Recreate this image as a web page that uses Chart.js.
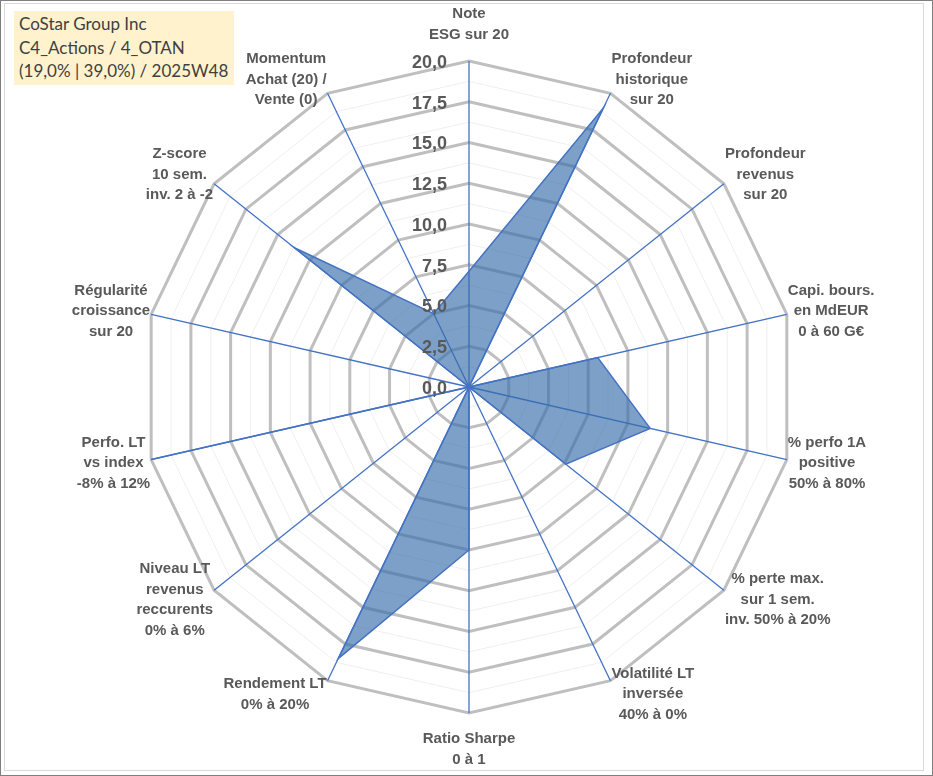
<!DOCTYPE html>
<html>
<head>
<meta charset="utf-8">
<script src="https://cdn.jsdelivr.net/npm/chart.js@4.4.1/dist/chart.umd.min.js"></script>
<style>
    html, body { margin: 0; padding: 0; background: #fff; }
    #page { position: relative; width: 933px; height: 776px; box-sizing: border-box; border: 1px solid #7f7f7f; overflow: hidden; }
    #frame { position: absolute; left: 3px; top: 2px; width: 920px; height: 768px; box-sizing: border-box; border: 1px solid #d9d9d9; }
    #radar { position: absolute; left: 0; top: 0; }
    #titre { position: absolute; left: 13px; top: 10px; width: 220px; height: 74px; background: #fff2cc;
             font-family: Lato, "Open Sans", sans-serif; font-size: 17px; line-height: 23.5px; color: #404040;
             padding: 1px 0 0 5px; box-sizing: border-box; white-space: nowrap; }
</style>
</head>
<body>
<div id="page">
    <div id="frame"></div>
    <canvas id="radar" width="933" height="776"></canvas>
    <div id="titre">CoStar Group Inc<br>C4_Actions / 4_OTAN<br>(19,0% | 39,0%) / 2025W48</div>
</div>
<script>

// Data {

    const axes = [
        ['Note', 'ESG sur 20'],
        ['Profondeur', 'historique', 'sur 20'],
        ['Profondeur', 'revenus', 'sur 20'],
        ['Capi. bours.', 'en MdEUR', '0 à 60 G€'],
        ['% perfo 1A', 'positive', '50% à 80%'],
        ['% perte max.', 'sur 1 sem.', 'inv. 50% à 20%'],
        ['Volatilité LT', 'inversée', '40% à 0%'],
        ['Ratio Sharpe', '0 à 1'],
        ['Rendement LT', '0% à 20%'],
        ['Niveau LT', 'revenus', 'reccurents', '0% à 6%'],
        ['Perfo. LT', 'vs index', '-8% à 12%'],
        ['Régularité', 'croissance', 'sur 20'],
        ['Z-score', '10 sem.', 'inv. 2 à -2'],
        ['Momentum', 'Achat (20) /', 'Vente (0)']
    ];

    const notes = [7.1, 19.0, 0, 8.1, 11.4, 7.6, 0, 10.0, 18.5, 0, 20.0, 0, 13.7, 5.0];

    const ticks = [0, 2.5, 5, 7.5, 10, 12.5, 15, 17.5, 20];

// };

// Labels drawn by hand (centered lines, Excel style) {

    const labelFont = 'bold 15px "Liberation Sans", Arial, sans-serif';
    const tickFont = 'bold 18px "Liberation Sans", Arial, sans-serif';

    const excelLabels = {
        id: 'excelLabels',
        afterDraw(chart) {
            const ctx = chart.ctx;
            const r = chart.scales.r;
            const n = axes.length;

            ctx.save();

            // tick labels, right aligned left of the top axis
            ctx.font = tickFont;
            ctx.fillStyle = '#595959';
            ctx.textAlign = 'right';
            ctx.textBaseline = 'middle';
            ticks.forEach(v => {
                const y = r.yCenter - r.getDistanceFromCenterForValue(v);
                ctx.fillText(v.toFixed(1).replace('.', ','), r.xCenter - 22, y + 2);
            });

            // point labels
            ctx.font = labelFont;
            ctx.textAlign = 'center';
            const lh = 20.5;
            axes.forEach((lines, i) => {
                const a = i * 2 * Math.PI / n;
                const p = r.getPointPosition(i, r.drawingArea);
                const w = Math.max(...lines.map(t => ctx.measureText(t).width));
                const h = lines.length * lh;
                let cx = p.x, cy = p.y;
                const s = Math.sin(a), c = Math.cos(a);
                if (Math.abs(s) < 0.01) {
                    cy = p.y - c * (h / 2 + 16);
                } else {
                    cx = p.x + Math.sign(s) * (w / 2 + 1);
                    cy = p.y - c * 15;
                }
                lines.forEach((t, k) => {
                    ctx.fillText(t, cx, cy - h / 2 + lh * (k + 0.5));
                });
            });

            ctx.restore();
        }
    };

// };

// Chart {

    const cr = document.getElementById('radar').getContext('2d');

    const radar = new Chart(cr, {
        type: 'radar',
        data: {
            labels: axes,
            datasets: [
                {
                    label: 'Notes',
                    data: notes,
                    backgroundColor: 'rgba(55, 109, 170, 0.65)',
                    borderColor: '#4472c4',
                    borderWidth: 1.5,
                    pointRadius: 0,
                    fill: true
                }
            ]
        },
        options: {
            responsive: false,
            animation: false,
            layout: { padding: { top: 60, bottom: 64, left: 3, right: 0 } },
            plugins: {
                legend: { display: false },
                tooltip: { enabled: false }
            },
            scales: {
                r: {
                    min: 0,
                    max: 20,
                    beginAtZero: true,
                    ticks: { display: false, stepSize: 1.25 },
                    pointLabels: { display: false },
                    angleLines: { color: '#4472c4', lineWidth: 1.3 },
                    grid: {
                        circular: false,
                        color: c => (c.tick && c.tick.value % 2.5 === 0) ? '#bfbfbf' : '#efefef',
                        lineWidth: c => (c.tick && c.tick.value % 2.5 === 0) ? 3 : 1
                    }
                }
            }
        },
        plugins: [excelLabels]
    });

// };

</script>
</body>
</html>
